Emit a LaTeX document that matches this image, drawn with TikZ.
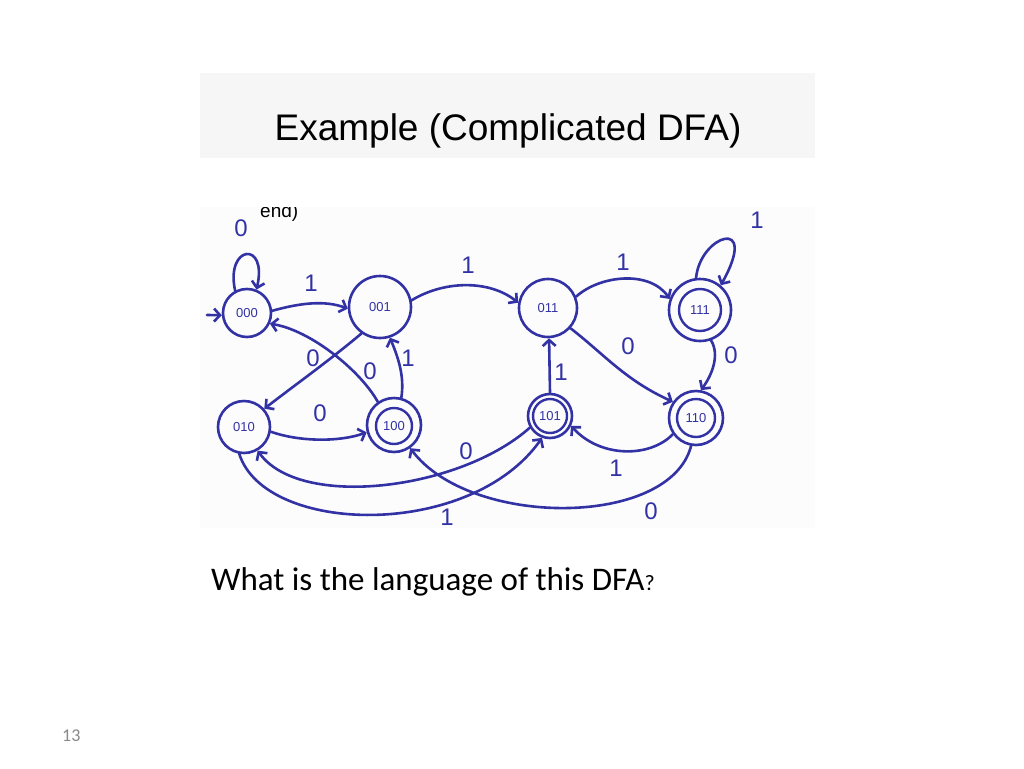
\documentclass[tikz,border=0pt]{standalone}
\usepackage{fontspec}
\setmainfont{Carlito}
\newfontfamily\arialf{Liberation Sans}
\usetikzlibrary{arrows.meta}
\definecolor{ink}{RGB}{50,50,165}
\definecolor{pgnum}{RGB}{137,137,137}
\definecolor{band}{RGB}{246,246,246}
\definecolor{shot}{RGB}{252,252,252}
\begin{document}
\begin{tikzpicture}[x=1pt,y=-1pt,
  st/.style={circle, draw=ink, line width=2.6pt, inner sep=0pt, text=ink,
    font=\arialf\fontsize{13}{13}\selectfont},
  inr/.style={circle, draw=ink, line width=2.4pt, inner sep=0pt, text=ink,
    font=\arialf\fontsize{13}{13}\selectfont},
  tr/.style={draw=ink, line width=2.6pt, line cap=round, line join=round,
    -{Straight Barb[length=6pt,width=13pt]}},
  lbl/.style={text=ink, inner sep=0pt, font=\arialf\fontsize{24}{24}\selectfont}
]
\useasboundingbox (0,0) rectangle (1024,768);
\fill[white] (0,0) rectangle (1024,768);
\fill[band] (200,73) rectangle (815,158);
\fill[shot] (200,207) rectangle (815,528);

% texts
\node[anchor=base, inner sep=0pt, font=\arialf\fontsize{37}{37}\selectfont] (title) at (508,140) {Example (Complicated DFA)};
\begin{scope}
  \clip (250,207.5) rectangle (320,225);
  \node[anchor=base west, inner sep=0pt, font=\arialf\fontsize{19}{19}\selectfont] (cut) at (260,217) {end)};
\end{scope}
\node[anchor=base west, inner sep=0pt, font=\fontsize{33}{33}\selectfont] (q) at (211,590) {What is the language of this DFA{\fontsize{22}{22}\selectfont ?}};
\node[anchor=base west, inner sep=0pt, text=pgnum, font=\fontsize{18}{18}\selectfont] (pg) at (62,741) {13};

% states
\node[st, minimum size=48pt] (s000) at (247,313) {000};
\node[st, minimum size=62pt] (s001) at (380,307) {001};
\node[st, minimum size=58pt] (s011) at (548,308) {011};
\node[st, minimum size=62pt] (s111) at (700,310) {};
\node[inr, minimum size=42pt] (s111i) at (700,310) {111};
\node[st, minimum size=52pt] (s010) at (244,427) {010};
\node[st, minimum size=54pt] (s100) at (394,425) {};
\node[inr, minimum size=36pt] (s100i) at (394,426) {100};
\node[st, minimum size=44pt] (s101) at (550,416) {};
\node[inr, minimum size=34pt] (s101i) at (550,416) {101};
\node[st, minimum size=54pt] (s110) at (696,418) {};
\node[inr, minimum size=38pt] (s110i) at (696,418) {110};

% transitions
\coordinate (start) at (207,315);
\draw[tr] (start) -- (s000.185);
\draw[tr] (s000.118) .. controls (225,245) and (268,240) .. (s000.68);
\draw[tr] (s000.5) .. controls (300,303) and (325,300) .. (s001.183);
\draw[tr] (s001.12) .. controls (445,280) and (490,280) .. (s011.170);
\draw[tr] (s011.22) .. controls (600,275) and (650,270) .. (s111.160);
\draw[tr] (s111.97) .. controls (700,235) and (760,215) .. (s111.50);
\draw[tr] (s111.290) .. controls (720,355) and (712,375) .. (s110.80);
\draw[tr] (s011.318) .. controls (605,355) and (625,380) .. (s110.145);
\draw[tr] (s110.215) .. controls (650,458) and (600,458) .. (s101.-25);
\draw[tr] (s101.90) -- (s011.272);
\draw[tr] (s001.235) .. controls (330,360) and (295,385) .. (s010.42);
\draw[tr] (s100.125) .. controls (360,370) and (310,330) .. (s000.-25);
\draw[tr] (s100.75) .. controls (405,375) and (397,355) .. (s001.-72);
\draw[tr] (s010.-10) .. controls (300,442) and (340,442) .. (s100.195);
\draw[tr] (s101.210) .. controls (460,490) and (300,510) .. (s010.-60);
\draw[tr] (s010.-100) .. controls (265,535) and (470,540) .. (s101.-110);
\draw[tr] (s110.-100) .. controls (670,528) and (470,528) .. (s100.-55);

% labels
\node[lbl] (l0a) at (241,228) {0};
\node[lbl] (l1a) at (311,283) {1};
\node[lbl] (l1b) at (468,265) {1};
\node[lbl] (l1c) at (623,262) {1};
\node[lbl] (l1d) at (757,220) {1};
\node[lbl] (l0b) at (731,355) {0};
\node[lbl] (l0c) at (628,346) {0};
\node[lbl] (l1e) at (616,468) {1};
\node[lbl] (l1f) at (561,372) {1};
\node[lbl] (l0d) at (313,358) {0};
\node[lbl] (l0e) at (370,371) {0};
\node[lbl] (l1g) at (408,358) {1};
\node[lbl] (l0f) at (320,413) {0};
\node[lbl] (l0g) at (466,451) {0};
\node[lbl] (l1h) at (447,517) {1};
\node[lbl] (l0h) at (651,511) {0};
\end{tikzpicture}
\end{document}
